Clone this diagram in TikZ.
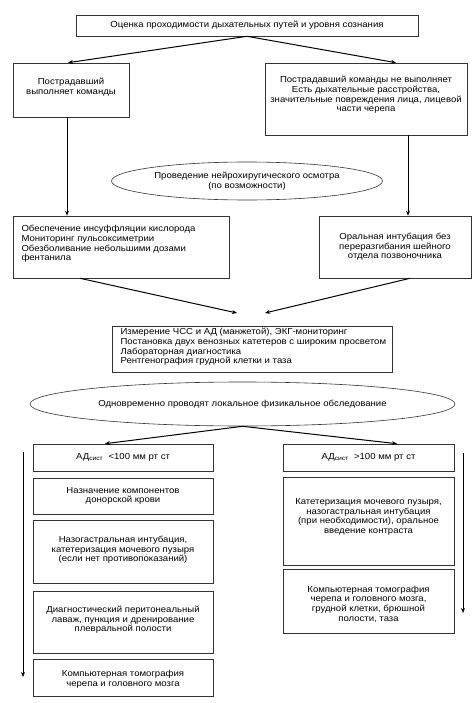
\documentclass[tikz,border=0pt]{standalone}
\usepackage{fontspec}
\setmainfont[FakeStretch=1.1]{Liberation Sans}
\usetikzlibrary{arrows.meta,shapes.geometric}
\begin{document}
\begin{tikzpicture}[x=1pt,y=-1pt,
  every node/.style={font=\fontsize{8.7}{9.6}\selectfont},
  boxc/.style={draw=black!80,line width=0.6pt,rectangle,inner sep=0pt,align=center},
  ellc/.style={draw=black!80,line width=0.6pt,ellipse,inner sep=0pt,align=center},
  arr/.style={line width=1pt,-{Stealth[length=5pt,width=4pt]}}]
\useasboundingbox (0,0) rectangle (475,703);
% boxes (from corner coordinates)
\newcommand{\bx}[5]{\node[boxc,minimum width=#4-#2,minimum height=#5-#3] (#1) at ({(#2+#4)/2},{(#3+#5)/2}) {};}
\bx{top}{76}{15}{418}{36}
\bx{la}{13}{63}{129}{117}
\bx{ra}{265}{63}{467}{135}
\bx{lb}{13}{216}{229}{278}
\bx{rb}{319}{216}{471}{278}
\bx{mid}{112}{326}{392}{372}
\bx{adl}{33}{444}{213}{471}
\bx{lb2}{33}{478}{213}{514}
\bx{lc2}{33}{520}{213}{583}
\bx{ld2}{33}{591}{213}{653}
\bx{le2}{33}{659}{213}{696}
\bx{adr}{283}{444}{454}{471}
\bx{rb2}{283}{477}{454}{565}
\bx{rc2}{283}{569}{454}{633}
\node[ellc,minimum width=271,minimum height=38] (e1) at (247,181) {};
\node[ellc,minimum width=425,minimum height=44] (e2) at (242.5,404) {};
% texts
\node[align=center] at (top) {Оценка проходимости дыхательных путей и уровня сознания};
\node[align=center] at (71,87) {Пострадавший\\выполняет команды};
\node[align=center] at (366,95) {Пострадавший команды не выполняет\\Есть дыхательные расстройства,\\значительные повреждения лица, лицевой\\части черепа};
\node[align=center] at (e1) {Проведение нейрохиругического осмотра\\(по возможности)};
\node[align=left,anchor=west] at (18,244) {Обеспечение инсуффляции кислорода\\Мониторинг пульсоксиметрии\\Обезболивание небольшими дозами\\фентанила};
\node[align=center] at (rb) {Оральная интубация без\\переразгибания шейного\\отдела позвоночника};
\node[align=left,anchor=west] at (117,347) {Измерение ЧСС и АД (манжетой), ЭКГ-мониторинг\\Постановка двух венозных катетеров с широким просветом\\Лабораторная диагностика\\Рентгенография грудной клетки и таза};
\node at (e2) {Одновременно проводят локальное физикальное обследование};
\node at (adl) {АД\textsubscript{сист}\ \ <100 мм рт ст};
\node at (adr) {АД\textsubscript{сист}\ \ >100 мм рт ст};
\node[align=center] at (lb2) {Назначение компонентов\\донорской крови};
\node[align=center] at (123,550) {Назогастральная интубация,\\катетеризация мочевого пузыря\\(если нет противопоказаний)};
\node[align=center] at (123,620) {Диагностический перитонеальный\\лаваж, пункция и дренирование\\плевральной полости};
\node[align=center] at (123,679) {Компьютерная томография\\черепа и головного мозга};
\node[align=center] at (368.5,517) {Катетеризация мочевого пузыря,\\назогастральная интубация\\(при необходимости), оральное\\введение контраста};
\node[align=center] at (368.5,604) {Компьютерная томография\\черепа и головного мозга,\\грудной клетки, брюшной\\полости, таза};
% connectors
\coordinate (m1) at (237,313);
\coordinate (m2) at (265,313);
\coordinate (lv1) at (23,452);
\coordinate (lv2) at (23,677);
\coordinate (rv1) at (463,453);
\coordinate (rv2) at (463,613);
\draw[arr] (top.south) -- (la.north -| 68,0);
\draw[arr] (top.south) -- (ra.north -| 396,0);
\draw[arr] (la.south -| 67,0) -- (lb.north -| 67,0);
\draw[arr] (ra.south -| 408,0) -- (rb.north -| 408,0);
\draw[arr] (lb.south -| 80,0) -- (m1);
\draw[arr] (rb.south -| 410,0) -- (m2);
\draw[arr] (e2.south) -- (adl.north -| 105,0);
\draw[arr] (e2.south) -- (adr.north -| 397,0);
\draw[arr] (lv1) -- (lv2);
\draw[arr] (rv1) -- (rv2);
\end{tikzpicture}
\end{document}
